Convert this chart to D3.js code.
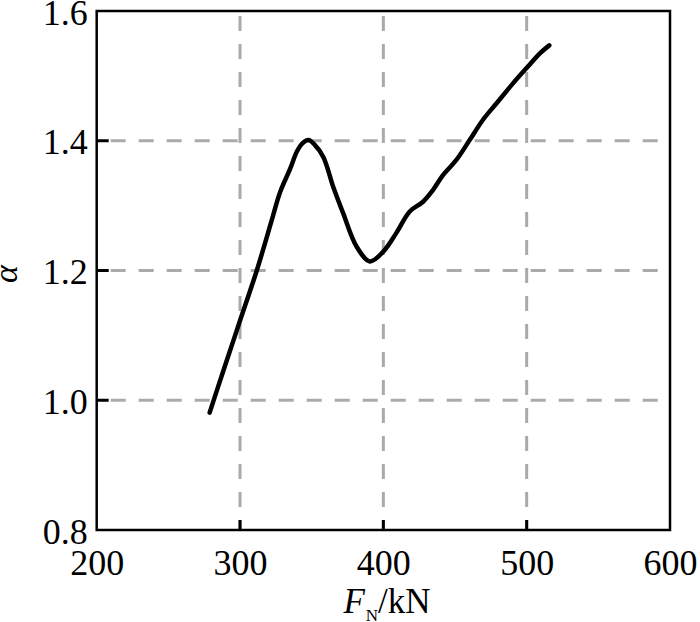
<!DOCTYPE html>
<html><head><meta charset="utf-8">
<script src="https://cdn.jsdelivr.net/npm/d3@7"></script>
<style>body{margin:0;background:#fff;} svg{display:block;}</style>
</head><body>
<script>
const fN = [278.8,288.6,300.2,311.8,322.2,328,335,339.6,343.5,347.7,352,358.1,365,372,381.3,390.6,399.9,409.1,418.4,427.7,434.6,441.6,450.8,460.2,469.4,478.7,490.3,500.7,508.9,515.8];
const alpha = [0.981,1.047,1.124,1.2008,1.278,1.321,1.357,1.383,1.396,1.401,1.394,1.375,1.329,1.288,1.237,1.214,1.229,1.258,1.291,1.306,1.324,1.347,1.370,1.401,1.432,1.457,1.488,1.514,1.534,1.547];
const xTicks = [200,300,400,500,600];
const yTicks = [0.8,1.0,1.2,1.4,1.6];
const xGrid = [300,400,500];
const yGrid = [1.0,1.2,1.4];

const W=700,H=622;
const m={left:96.7,right:670,top:11,bottom:530};
const svg=d3.select("body").append("svg").attr("width",W).attr("height",H);
const x=d3.scaleLinear().domain([200,600]).range([m.left,m.right]);
const y=d3.scaleLinear().domain([0.8,1.6]).range([m.bottom,m.top]);
const font="'Liberation Serif','Times New Roman',serif";

// grid
svg.append("g").selectAll("line").data(xGrid).join("line")
  .attr("x1",d=>x(d)).attr("x2",d=>x(d)).attr("y1",m.top).attr("y2",m.bottom)
  .attr("stroke","#aaaaaa").attr("stroke-width",3).attr("stroke-dasharray","15,13").attr("stroke-dashoffset",-5);
svg.append("g").selectAll("line").data(yGrid).join("line")
  .attr("x1",m.left).attr("x2",m.right).attr("y1",d=>y(d)).attr("y2",d=>y(d))
  .attr("stroke","#aaaaaa").attr("stroke-width",3).attr("stroke-dasharray","15,13").attr("stroke-dashoffset",-14);

// axes
const xAxis=d3.axisBottom(x).tickValues(xTicks).tickSize(0).tickPadding(0).tickFormat(d3.format("d"));
const gx=svg.append("g").attr("transform",`translate(0,${m.bottom})`).call(xAxis);
gx.select(".domain").remove();
gx.selectAll("text").attr("font-family",font).attr("font-size",36).attr("fill","#000").attr("dy",null).attr("y",45);
const yAxis=d3.axisLeft(y).tickValues(yTicks).tickSize(0).tickPadding(0).tickFormat(d3.format(".1f"));
const gy=svg.append("g").attr("transform",`translate(${m.left},0)`).call(yAxis);
gy.select(".domain").remove();
gy.selectAll("text").attr("font-family",font).attr("font-size",36).attr("fill","#000").attr("dy",null).attr("x",-9).attr("y",13);

// inward ticks
svg.append("g").selectAll("line").data(xGrid).join("line")
  .attr("x1",d=>x(d)).attr("x2",d=>x(d)).attr("y1",m.bottom).attr("y2",m.bottom-10)
  .attr("stroke","#000").attr("stroke-width",3);
svg.append("g").selectAll("line").data(yGrid).join("line")
  .attr("x1",m.left).attr("x2",m.left+12).attr("y1",d=>y(d)).attr("y2",d=>y(d))
  .attr("stroke","#000").attr("stroke-width",3);

// frame
svg.append("rect").attr("x",m.left).attr("y",m.top).attr("width",m.right-m.left).attr("height",m.bottom-m.top)
  .attr("fill","none").attr("stroke","#000").attr("stroke-width",2.5);

// line
svg.append("path").datum(fN.map((v,i)=>[v,alpha[i]]))
  .attr("d",d3.line().x(d=>x(d[0])).y(d=>y(d[1])).curve(d3.curveCatmullRom))
  .attr("fill","none").attr("stroke","#000").attr("stroke-width",4.5).attr("stroke-linejoin","round").attr("stroke-linecap","round");

// titles
const t=svg.append("text").attr("x",387).attr("y",613).attr("text-anchor","middle").attr("font-family",font).attr("font-size",35);
t.append("tspan").attr("font-style","italic").text("F");
t.append("tspan").attr("font-size",17).attr("dy",8).attr("dx",1).text("N");
t.append("tspan").attr("dy",-8).text("/kN");
svg.append("text").attr("transform","translate(17,274) rotate(-90)").attr("text-anchor","middle")
  .attr("font-family",font).attr("font-size",34).attr("font-style","italic").text("α");
</script>
</body></html>
